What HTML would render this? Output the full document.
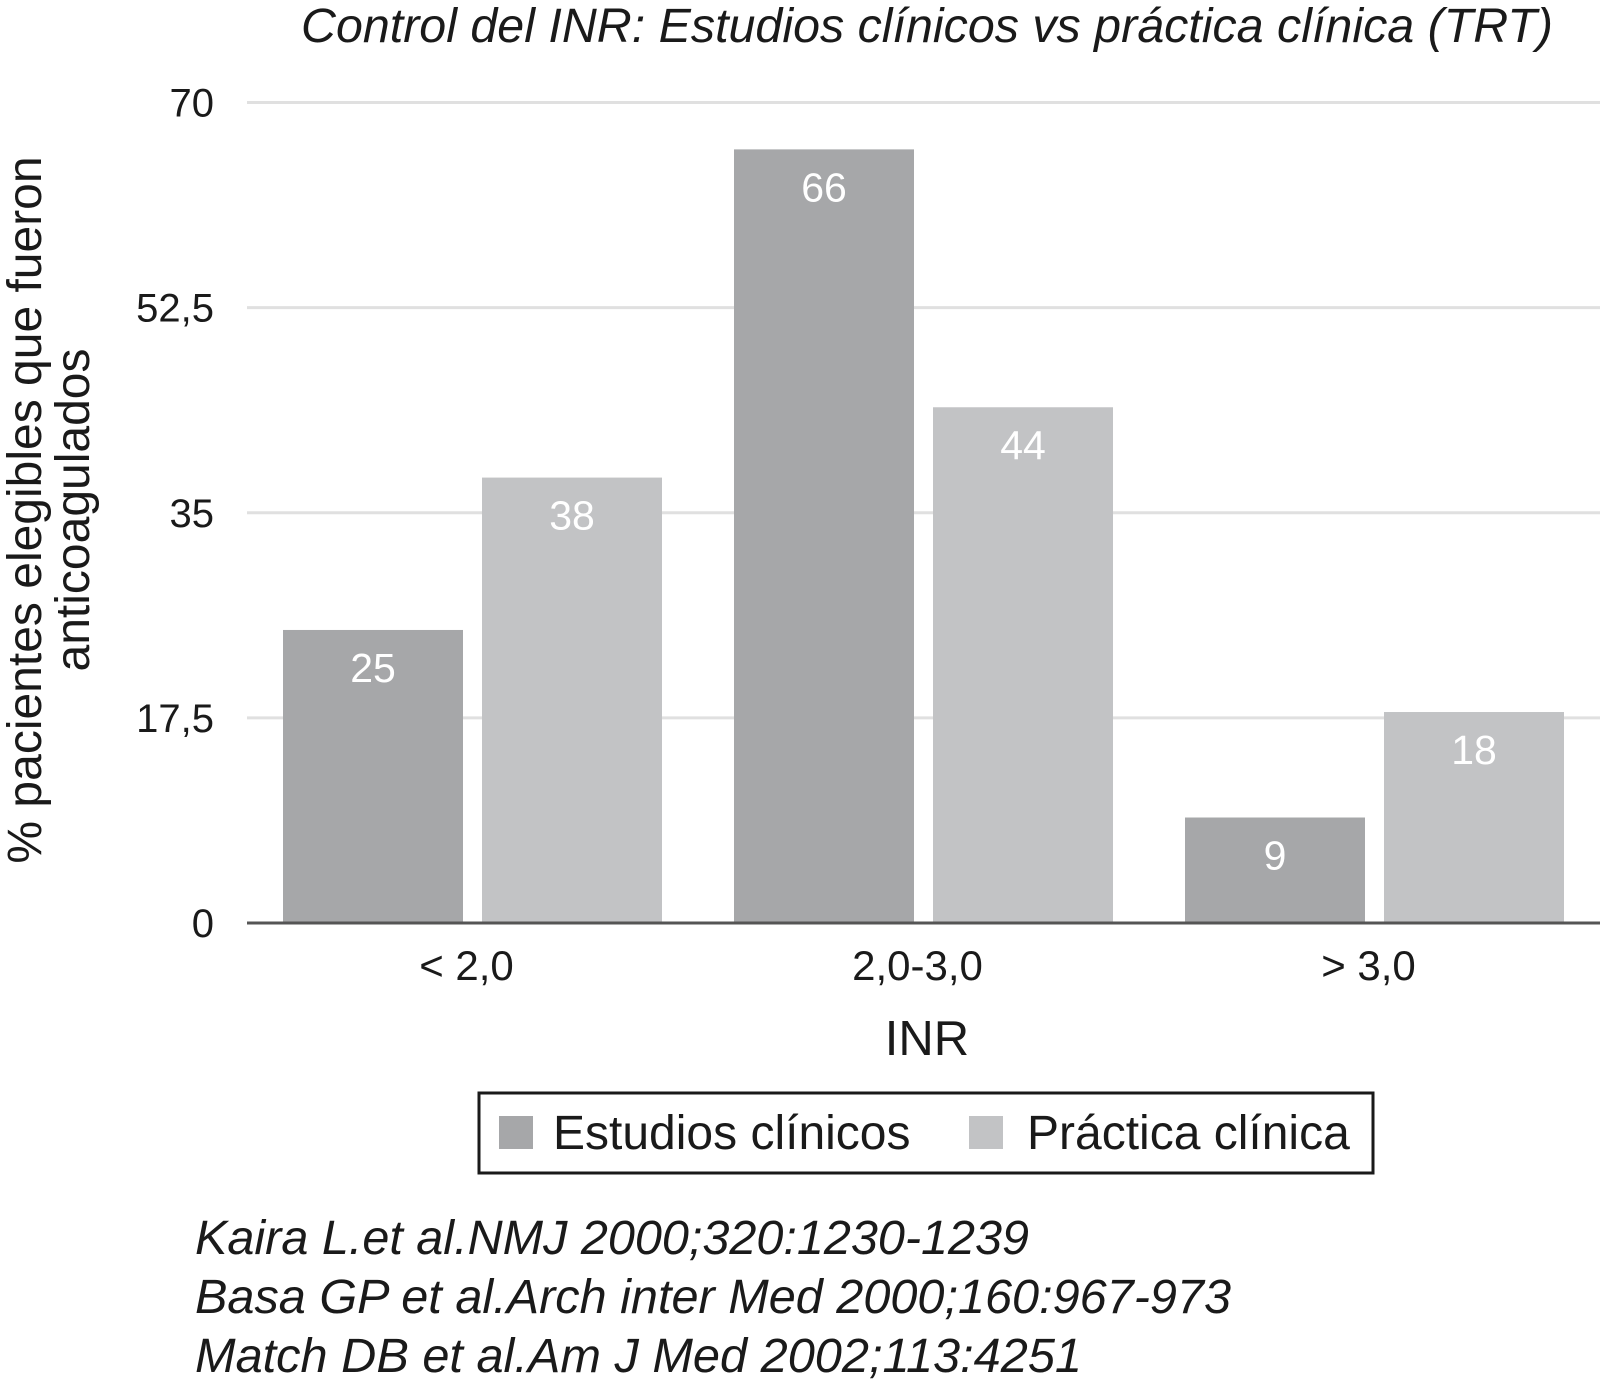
<!DOCTYPE html>
<html><head><meta charset="utf-8"><style>
body{margin:0;background:#fff;}
svg{display:block;font-family:"Liberation Sans",sans-serif;}
</style></head><body>
<svg width="1606" height="1382" viewBox="0 0 1606 1382">
<text x="927" y="42" font-size="48" font-style="italic" text-anchor="middle" fill="#1a1a1a" textLength="1252" lengthAdjust="spacingAndGlyphs">Control del INR: Estudios clínicos vs práctica clínica (TRT)</text>
<g id="grid"></g>
<g id="bars"></g>
<g transform="translate(53,510) rotate(-90)">
<text x="0" y="-12" font-size="48" text-anchor="middle" fill="#1a1a1a">% pacientes elegibles que fueron</text>
<text x="0" y="36" font-size="48" text-anchor="middle" fill="#1a1a1a">anticoagulados</text>
</g>
<text x="927" y="1055" font-size="49" text-anchor="middle" fill="#1a1a1a">INR</text>
<g>
<rect x="479" y="1093" width="894" height="80" fill="#fff" stroke="#1a1a1a" stroke-width="3"/>
<rect x="499" y="1116" width="34" height="33" fill="#a6a7a9"/>
<text x="553" y="1149" font-size="48" fill="#1a1a1a">Estudios clínicos</text>
<rect x="969" y="1116" width="34" height="33" fill="#c2c3c5"/>
<text x="1027" y="1149" font-size="48" fill="#1a1a1a">Práctica clínica</text>
</g>
<g font-size="48" font-style="italic" fill="#1a1a1a">
<text x="195" y="1254" textLength="834" lengthAdjust="spacingAndGlyphs">Kaira L.et al.NMJ 2000;320:1230-1239</text>
<text x="195" y="1313" textLength="1036" lengthAdjust="spacingAndGlyphs">Basa GP et al.Arch inter Med 2000;160:967-973</text>
<text x="195" y="1372" textLength="887" lengthAdjust="spacingAndGlyphs">Match DB et al.Am J Med 2002;113:4251</text>
</g>
</svg>
<script>
const categories=["< 2,0","2,0-3,0","> 3,0"];
const estudios=[25,66,9];
const practica=[38,44,18];
const ticks=[0,17.5,35,52.5,70];
const tickLabels=["0","17,5","35","52,5","70"];
const NS="http://www.w3.org/2000/svg";
const x0=247,x1=1600,y0=923,yTop=102.5,ymax=70;
const y=v=>y0-(y0-yTop)*v/ymax;
const gw=(x1-x0)/categories.length;
const grid=document.getElementById('grid'),bars=document.getElementById('bars');
function mk(tag,attrs,parent){const e=document.createElementNS(NS,tag);for(const k in attrs)e.setAttribute(k,attrs[k]);parent.appendChild(e);return e;}
ticks.forEach((t,i)=>{
 if(t>0){const l=mk('line',{x1:x0,x2:x1,y1:y(t),y2:y(t),stroke:'#e0e0e0','stroke-width':3},grid);
 
 }
 const tx=mk('text',{x:214,y:y(t)+14,'font-size':40,'text-anchor':'end',fill:'#1a1a1a'},grid);
 tx.textContent=tickLabels[i];
 
 
});
const bw=180,gap=19;
categories.forEach((c,i)=>{
 const cx=x0+gw*(i+0.5);
 [[estudios[i],'#a6a7a9',cx-gap/2-bw,'bar-estudios'],[practica[i],'#c2c3c5',cx+gap/2,'bar-practica']].forEach(([v,col,bx,nm])=>{
  const r=mk('rect',{x:bx,y:y(v),width:bw,height:y0-y(v),fill:col},bars);
  
  
  const t=mk('text',{x:bx+bw/2,y:y(v)+52,'font-size':41,'text-anchor':'middle',fill:'#fff'},bars);
  t.textContent=v;
  
  
 });
 const cl=mk('text',{x:cx-6,y:980,'font-size':42,'text-anchor':'middle',fill:'#1a1a1a'},bars);
 cl.textContent=c;
 
 
});
const ax=mk('line',{x1:x0,x2:x1,y1:y0,y2:y0,stroke:'#555','stroke-width':3},bars);


</script>
</body></html>
